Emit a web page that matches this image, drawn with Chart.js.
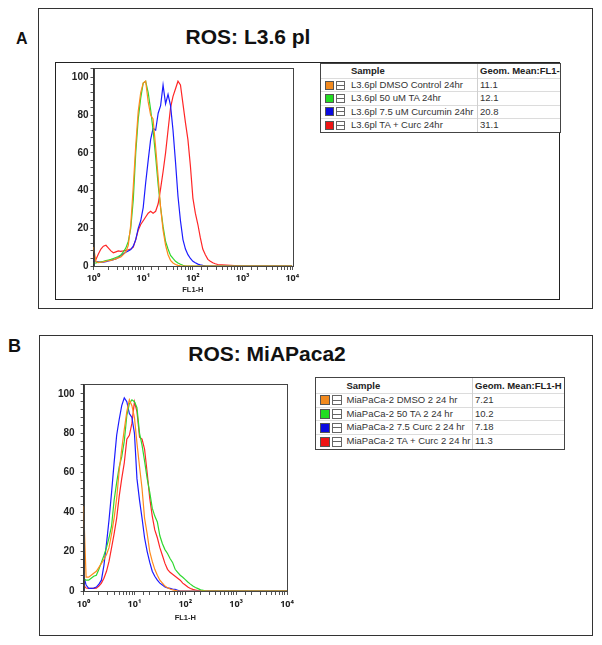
<!DOCTYPE html>
<html>
<head>
<meta charset="utf-8">
<script src="https://cdn.jsdelivr.net/npm/chart.js@4.4.1/dist/chart.umd.min.js"></script>
<style>
  body { margin:0; width:602px; height:645px; background:#fff; position:relative; overflow:hidden;
         font-family:"Liberation Sans", Arial, sans-serif; color:#111; }
  .box { position:absolute; box-sizing:border-box; }
  .outer { border:1px solid #333; }
  .inner { border:1.4px solid #222; }
  .lbl { position:absolute; font-weight:bold; line-height:1; }
  .ttl { position:absolute; font-weight:bold; font-size:21px; line-height:1; white-space:nowrap; transform:translateX(-50%); }
  .leg { position:absolute; box-sizing:border-box; border:1px solid #444; background:#fff; overflow:hidden;
         font-size:9.5px; color:#333; }
  .leg .hd, .leg .row { position:relative; box-sizing:border-box; }
  .leg .hd { font-weight:bold; color:#222; }
  .leg .row { border-top:1px solid #dcdcdc; }
  .leg span { position:absolute; top:0; white-space:nowrap; }
  .leg .sw { position:absolute; box-sizing:border-box; border:1px solid #555; }
  .leg .ic { position:absolute; box-sizing:border-box; border:1px solid #666; background:#fff; }
  .leg .ic::after { content:""; position:absolute; left:0; right:0; top:50%; border-top:1px solid #666; margin-top:-0.5px; }
  .leg .sep { position:absolute; top:0; bottom:0; width:1px; background:#d0d0d0; }
  canvas { position:absolute; }
</style>
</head>
<body>

<div class="lbl" style="left:16px; top:31px; font-size:16px;">A</div>
<div class="box outer" style="left:38px; top:8px; width:555px; height:301px;"></div>
<div class="box inner" style="left:55px; top:62px; width:505px; height:238px;"></div>
<div class="ttl" style="left:248px; top:25.5px;">ROS: L3.6 pl</div>
<canvas id="plotA" width="265" height="240" style="left:50px; top:60px;"></canvas>
<div class="leg" id="legA" style="left:320px; top:63px; width:241px; height:70px;"></div>

<div class="lbl" style="left:8px; top:336.5px; font-size:18px;">B</div>
<div class="box outer" style="left:39px; top:335px; width:554px; height:301px;"></div>
<div class="ttl" style="left:267px; top:342.5px;">ROS: MiAPaca2</div>
<canvas id="plotB" width="270" height="262" style="left:40px; top:372px;"></canvas>
<div class="leg" id="legB" style="left:314.5px; top:376.7px; width:250px; height:73.3px;"></div>

<script>
// FL1-H channel values (log axis)
var fl1 = [1, 1.12, 1.26, 1.41, 1.58, 1.78, 2, 2.24, 2.51, 2.82, 3.16, 3.55, 3.98, 4.47, 5.01,
  5.62, 6.31, 7.08, 7.94, 8.91, 10, 11.2, 12.6, 14.1, 15.8, 17.8, 20, 22.4, 25.1, 28.2, 31.6,
  35.5, 39.8, 44.7, 50.1, 56.2, 63.1, 70.8, 79.4, 89.1, 100, 112, 126, 141, 158, 178, 200,
  224, 251, 282, 316, 1000, 10000];

// panel A: L3.6pl
var namesA = ["L3.6pl DMSO Control 24hr", "L3.6pl 50 uM TA 24hr", "L3.6pl 7.5 uM Curcumin 24hr", "L3.6pl TA + Curc 24hr"];
var meansA = ["11.1", "12.1", "20.8", "31.1"];
var aOrange = [10, 2.5, 1.8, 2, 2.2, 2.5, 2.8, 3, 3.3, 3.8, 4.3, 4.8, 6, 7.5, 11, 22, 42, 64, 82, 92,
  97, 98, 87, 80, 78, 63, 47, 31, 19, 11, 6, 3, 1.6, 0.8, 0.3, 0.1, 0, 0, 0, 0, 0, 0, 0, 0, 0, 0,
  0, 0, 0, 0, 0, 0, 0];
var aGreen = [1.5, 1.7, 2, 2.2, 2.5, 2.9, 3.2, 3.5, 4, 4.5, 5, 5.8, 7.5, 9.5, 13, 20, 35, 60, 78, 89,
  97, 98, 92, 83, 72, 58, 43, 31, 21, 13, 9, 5.6, 4, 2.5, 1.6, 0.9, 0.4, 0, 0, 0, 0, 0, 0, 0, 0, 0,
  0, 0, 0, 0, 0, 0, 0];
var aBlue = [3, 2.5, 2.2, 2.1, 2, 2.3, 2.7, 3, 3.4, 3.8, 4.5, 5.5, 6.5, 7.3, 8, 8.7, 10.5, 14, 20, 24,
  31, 44, 56, 67, 73, 72, 81, 85, 96, 86, 91, 85, 72, 55, 37, 24, 14, 9, 6, 4, 2.5, 1.7, 1, 0.6,
  0.3, 0.1, 0, 0, 0, 0, 0, 0, 0];
var aRed = [5, 3.5, 6.5, 9, 10.5, 11, 9.5, 8, 7, 7.5, 8, 7.8, 8, 8.3, 8.6, 9, 10, 14, 19, 22,
  24, 26, 28, 29, 28, 29, 33, 41, 50, 60, 72, 84, 90, 94, 98, 96, 86, 76, 67, 53, 36, 28, 22, 15,
  9, 6, 3.5, 2.5, 1.7, 1.2, 0.8, 0, 0];

// panel B: MiaPaCa-2
var namesB = ["MiaPaCa-2 DMSO 2 24 hr", "MiaPaCa-2 50 TA 2 24 hr", "MiaPaCa-2 7.5 Curc 2 24 hr", "MiaPaCa-2 TA + Curc 2 24 hr"];
var meansB = ["7.21", "10.2", "7.18", "11.3"];
var bOrange = [43, 7, 7, 8, 9, 10, 12, 14, 16, 18.5, 22, 29, 37, 47, 61, 72, 82, 91, 97, 94,
  88, 75, 63, 52, 37, 29, 20, 15, 11, 8, 5.5, 4, 2.5, 1.7, 1, 0.6, 0.3, 0, 0, 0, 0, 0, 0, 0, 0, 0,
  0, 0, 0, 0, 0, 0, 0];
var bGreen = [6, 5.5, 5.5, 6.5, 7.5, 8, 11, 14.5, 18, 22, 27, 33, 46, 55, 63, 68, 76, 89, 95, 97,
  96, 93, 80, 74, 66, 57, 50, 42, 38, 35, 28, 24, 21, 19, 16.5, 14.5, 11, 9.5, 8, 7, 5.8, 4.6, 3.5,
  2.5, 1.8, 1.2, 0.6, 0.3, 0, 0, 0, 0, 0];
var bBlue = [8, 3, 1.3, 1.3, 1.5, 2, 3.5, 5.5, 13, 24, 36, 50, 65, 79, 87, 94, 98, 96, 90, 88,
  80, 57, 46, 37, 27, 20, 14.5, 10, 7.5, 5.5, 4, 3, 2, 1.6, 1.3, 1, 0.8, 0.4, 0, 0, 0, 0, 0, 0, 0,
  0, 0, 0, 0, 0, 0, 0, 0];
var bRed = [3, 1.5, 1.3, 1.3, 1.3, 1.4, 2.5, 4, 6.5, 10, 15, 22, 29, 37, 48, 57, 65, 77, 79, 85,
  96, 91, 78, 77, 72, 60, 47, 38, 31, 27, 22, 18, 14, 11, 9.5, 8.5, 7.5, 6.5, 5.5, 4, 3, 2, 1.3,
  0.8, 0.5, 0.2, 0, 0, 0, 0, 0, 0, 0];

var lineColors = ["#ff8a1c", "#2ed82e", "#1c1cff", "#ff2626"];
var swatchColors = ["#f28a1e", "#22dd22", "#0a0ae0", "#ee1515"];
var decadeLabels = ["10\u2070", "10\u00b9", "10\u00b2", "10\u00b3", "10\u2074"];

Chart.defaults.font.family = "'Liberation Sans', Arial, sans-serif";
Chart.defaults.color = "#222";

var frame = {
  id: "frame",
  afterDraw: function (chart) {
    var a = chart.chartArea, ctx = chart.ctx;
    ctx.save();
    ctx.strokeStyle = "#444";
    ctx.lineWidth = 1;
    ctx.strokeRect(Math.round(a.left) + 0.5, Math.round(a.top) + 0.5,
      Math.round(a.right - a.left), Math.round(a.bottom - a.top));
    ctx.restore();
  }
};

function drawPlot(id, series, opt) {
  new Chart(id, {
    type: "line",
    data: {
      datasets: series.map(function (vals, i) {
        return {
          data: fl1.map(function (x, j) { return { x: x, y: vals[j] }; }),
          borderColor: lineColors[i],
          borderWidth: 1.2,
          pointRadius: 0,
          tension: 0,
          fill: false
        };
      })
    },
    options: {
      responsive: false,
      animation: false,
      events: [],
      layout: { padding: opt.pad },
      plugins: { legend: { display: false }, tooltip: { enabled: false } },
      scales: {
        x: {
          type: "logarithmic",
          min: 1, max: 10000,
          border: { color: "#333" },
          grid: { drawOnChartArea: false, tickLength: 4, color: "#555" },
          ticks: {
            autoSkip: false, maxRotation: 0, padding: opt.xPad,
            font: { family: "'Noto Sans', 'DejaVu Sans', sans-serif", size: 9, weight: "bold" },
            callback: function (v) {
              var l = Math.log10(v), r = Math.round(l);
              return Math.abs(l - r) < 1e-6 ? decadeLabels[r] : "";
            }
          },
          title: { display: true, text: "FL1-H", padding: 0, font: { size: 7.5, weight: "bold" } },
          afterFit: function (s) { s.height = opt.xH; }
        },
        y: {
          min: 0, max: 105,
          border: { color: "#333" },
          grid: { drawOnChartArea: false, tickLength: 3, color: "#555" },
          ticks: {
            stepSize: 4, autoSkip: false, padding: opt.yPad,
            font: { size: 10, weight: "bold" },
            callback: function (v) { return v % 20 === 0 ? v : ""; }
          },
          afterFit: function (s) { s.width = opt.yW; }
        }
      }
    },
    plugins: [frame]
  });
}

drawPlot("plotA", [aOrange, aGreen, aBlue, aRed],
  { pad: { top: 5.7, right: 22.7, bottom: 5.5, left: 0 }, xH: 28.5, yW: 43.5, xPad: 3, yPad: 2 });
drawPlot("plotB", [bOrange, bGreen, bBlue, bRed],
  { pad: { top: 8, right: 23, bottom: 11.2, left: 0 }, xH: 31.8, yW: 43.6, xPad: 4.5, yPad: 6 });

function buildLegend(id, names, means, c) {
  var html = '<div class="hd" style="height:' + c.head + 'px;line-height:' + c.head + 'px">' +
    '<span style="left:' + c.text + 'px">Sample</span>' +
    '<span style="left:' + c.val + 'px">Geom. Mean:FL1-H</span></div>';
  names.forEach(function (n, i) {
    var t = (c.row - c.sz) / 2 - 0.5;
    html += '<div class="row" style="height:' + c.row + 'px;line-height:' + (c.row - 1) + 'px">' +
      '<i class="sw" style="left:' + c.sw + 'px;top:' + t + 'px;width:' + c.sz + 'px;height:' + c.sz + 'px;background:' + swatchColors[i] + '"></i>' +
      '<i class="ic" style="left:' + c.ic + 'px;top:' + t + 'px;width:' + c.sz + 'px;height:' + c.sz + 'px"></i>' +
      '<span style="left:' + c.text + 'px">' + n + '</span>' +
      '<span style="left:' + c.val + 'px">' + means[i] + '</span></div>';
  });
  html += '<div class="sep" style="left:' + c.sep + 'px"></div>';
  document.getElementById(id).innerHTML = html;
}

buildLegend("legA", namesA, meansA, { head: 14, row: 13.3, sz: 9, sw: 4, ic: 15, text: 30, sep: 156, val: 159 });
buildLegend("legB", namesB, meansB, { head: 15, row: 13.9, sz: 10, sw: 4, ic: 16, text: 31, sep: 156, val: 159.5 });
</script>
</body>
</html>
